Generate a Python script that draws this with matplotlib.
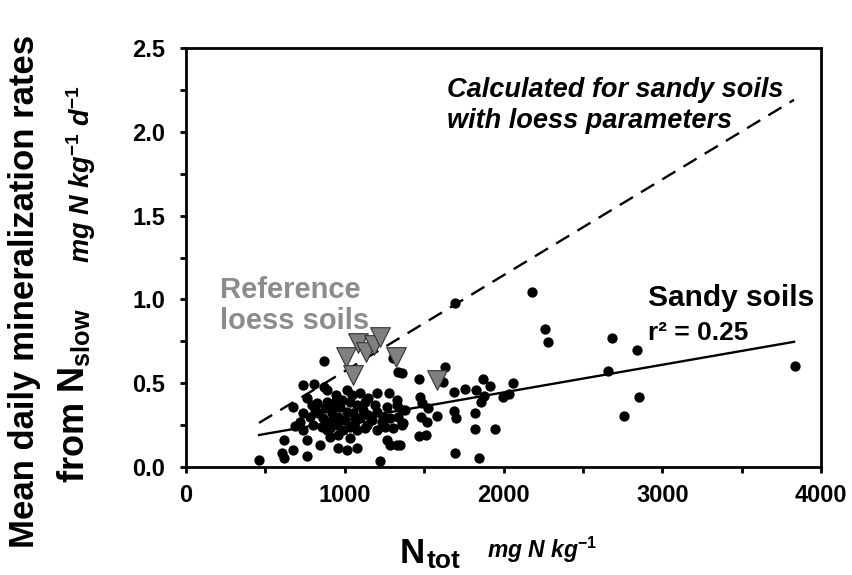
import numpy as np
import matplotlib
matplotlib.use('Agg')
import matplotlib.pyplot as plt

plt.rcParams['font.family'] = ['Liberation Sans', 'DejaVu Sans']
plt.rcParams['font.weight'] = 'bold'
plt.rcParams['mathtext.fontset'] = 'custom'
plt.rcParams['mathtext.rm'] = 'Liberation Sans:bold'
plt.rcParams['mathtext.it'] = 'Liberation Sans:bold:italic'
plt.rcParams['mathtext.bf'] = 'Liberation Sans:bold'
plt.rcParams['mathtext.default'] = 'rm'

# sandy soils: N_tot (mg N/kg) vs mean daily mineralization rate
sandy_x = [462, 603, 619, 676, 760, 619, 672, 687, 869, 1222,
           735, 808, 869, 890, 945, 1012, 1096, 1148, 1201, 1281, 1327,
           760, 791, 823, 886, 928, 980, 1033, 1075, 1127, 1190, 1264, 1327, 1379,
           739, 781, 833, 865, 917, 959, 1012, 1054, 1096, 1148, 1201, 1243, 1285, 1337, 1369,
           802, 854, 907, 949, 991, 1033, 1075, 1138, 1201, 1253, 1306, 1358, 739,
           760, 844, 907, 959, 1012, 1075, 1264, 1285, 1327,
           928, 970, 896, 1001, 1064, 1117, 1169, 1232, 812, 875, 718, 938, 1043, 1127, 959, 1033, 886,
           1306, 1337, 1359, 1359, 1359, 1348, 1470, 1474, 1485, 1527, 1478, 1516, 1579, 1470, 1510,
           1631, 1617, 1688, 1688, 1701, 1694, 1694, 1757, 1827, 1869, 1915, 1856, 1877, 1999, 2037,
           2062, 1820, 1820, 1946, 1848, 2178, 2261, 2278, 2685, 2839, 2656, 2856, 2757, 3836]
sandy_y = [0.04, 0.085, 0.055, 0.10, 0.068, 0.161, 0.356, 0.245, 0.634, 0.035,
           0.489, 0.495, 0.479, 0.459, 0.430, 0.459, 0.440, 0.410, 0.440, 0.440, 0.400,
           0.410, 0.370, 0.380, 0.390, 0.350, 0.400, 0.390, 0.370, 0.390, 0.370, 0.360, 0.370, 0.340,
           0.320, 0.300, 0.320, 0.290, 0.320, 0.300, 0.330, 0.320, 0.290, 0.310, 0.330, 0.300, 0.290, 0.300, 0.261,
           0.251, 0.241, 0.231, 0.251, 0.221, 0.241, 0.221, 0.251, 0.221, 0.241, 0.231, 0.251, 0.221,
           0.161, 0.131, 0.181, 0.111, 0.101, 0.111, 0.161, 0.131, 0.131,
           0.281, 0.360, 0.271, 0.281, 0.271, 0.340, 0.281, 0.271, 0.340, 0.350, 0.271, 0.390, 0.430, 0.231, 0.191, 0.171, 0.221,
           0.649, 0.569, 0.563, 0.340, 0.261, 0.131, 0.523, 0.420, 0.384, 0.350, 0.296, 0.270, 0.304, 0.185, 0.191,
           0.595, 0.509, 0.446, 0.336, 0.290, 0.082, 0.977, 0.463, 0.459, 0.523, 0.483, 0.390, 0.424, 0.420, 0.436,
           0.499, 0.320, 0.225, 0.225, 0.056, 1.046, 0.822, 0.748, 0.772, 0.698, 0.573, 0.416, 0.306, 0.603]

# reference loess soils
loess_x = [1006, 1054, 1083, 1132, 1187, 1222, 1320, 1579]
loess_y = [0.654, 0.547, 0.740, 0.685, 0.725, 0.776, 0.654, 0.519]

# regression for sandy soils and line calculated with loess parameters
fit_range = [460, 3830]
fit_intercept, fit_slope = 0.115, 0.000165
loess_intercept, loess_slope = 0.0, 0.000572

fig = plt.figure(figsize=(8.52, 5.75), dpi=100)
ax = fig.add_axes([186/852, 1-467/575, 635/852, 419/575])

xl = np.array(fit_range, dtype=float)
ax.plot(xl, fit_intercept + fit_slope*xl, color='black', lw=1.7, zorder=2)
ax.plot(xl, loess_intercept + loess_slope*xl, color='black', lw=1.7,
        dashes=(6.5, 4.0), zorder=2)
ax.scatter(sandy_x, sandy_y, s=55, color='black', zorder=3, linewidths=0)
ax.scatter(loess_x, loess_y, s=200, marker='v', color='#808080',
           edgecolors='#333333', linewidths=0.8, zorder=4)

ax.set_xlim(0, 4000)
ax.set_ylim(0, 2.5)
ax.set_xticks(np.arange(0, 4001, 500))
ax.set_xticklabels([str(v) if v % 1000 == 0 else '' for v in range(0, 4001, 500)])
ax.set_yticks(np.arange(0, 2.51, 0.25))
ax.set_yticklabels(['%.1f' % v if round(v*100) % 50 == 0 else '' for v in np.arange(0, 2.51, 0.25)])
ax.tick_params(axis='both', direction='out', length=4, width=2, labelsize=17)
ax.tick_params(axis='y', pad=11)
ax.tick_params(axis='x', pad=8)
for sp in ax.spines.values():
    sp.set_linewidth(2)

ax.text(1644, 2.155, 'Calculated for sandy soils\nwith loess parameters', style='italic',
        fontsize=19.5, ha='left', va='center', linespacing=1.25)
ax.text(214, 0.965, 'Reference\nloess soils', color='#8c8c8c', fontsize=21,
        ha='left', va='center', linespacing=1.15)
ax.text(2910, 1.008, 'Sandy soils', fontsize=21.5, ha='left', va='center')
ax.text(2910, 0.80, 'r² = 0.25', fontsize=19, ha='left', va='center')

fig.text(0.029, 0.494, 'Mean daily mineralization rates', rotation=90,
         fontsize=25, ha='center', va='center')
fig.text(0.0857, 0.313, r'from N$_{\mathbf{slow}}$', rotation=90,
         fontsize=26, ha='center', va='center')
fig.text(0.095, 0.696, r'mg N kg$^{\mathit{-1}}$ d$^{\mathit{-1}}$', rotation=90, style='italic',
         fontsize=19.5, ha='center', va='center')
fig.text(400/852, 0.0209, 'N', fontsize=25, ha='left', va='baseline')
fig.text(427/852, 0.013, 'tot', fontsize=19, ha='left', va='baseline')
fig.text(487/852, 0.0296, r'mg N kg$^{\mathit{-1}}$', style='italic', fontsize=16.5,
         ha='left', va='baseline')

fig.savefig('out.png', dpi=100)
